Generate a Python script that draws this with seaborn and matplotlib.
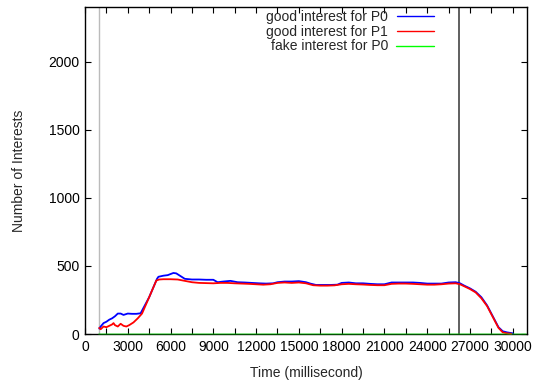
import matplotlib
matplotlib.use("Agg")
import matplotlib.pyplot as plt
import seaborn as sns
import pandas as pd
from matplotlib.ticker import MultipleLocator

# ---- data ----
p0_time = [1000, 1100, 1300, 1500, 1700, 1900, 2100, 2300, 2500, 2700, 3000, 3300, 3600, 3900,
           4500, 5050, 5150, 5500, 5800, 6000, 6200, 6400, 6700, 7000, 7500, 8000, 8500, 9000,
           9300, 9700, 10200, 10700, 11200, 11700, 12200, 12700, 13200, 13500, 14000, 14500,
           15000, 15500, 15800, 16200, 16700, 17200, 17700, 18000, 18500, 19000, 19500, 20000,
           20500, 21000, 21500, 22000, 22500, 23000, 23500, 24000, 24500, 25000, 25500, 26000,
           26300, 26600, 27000, 27400, 27800, 28200, 28600, 29000, 29300, 29600, 30000]
p0_good = [40, 55, 80, 90, 105, 115, 130, 150, 150, 140, 150, 148, 148, 152,
           270, 405, 420, 428, 432, 440, 448, 445, 425, 405, 400, 400, 398, 398,
           380, 385, 390, 380, 378, 375, 372, 370, 372, 380, 385, 385,
           388, 380, 370, 360, 360, 360, 362, 375, 378, 372, 372, 368,
           365, 365, 378, 378, 378, 378, 375, 370, 370, 370, 378, 380,
           372, 355, 335, 310, 270, 210, 130, 50, 20, 12, 5]

p1_time = [1000, 1100, 1300, 1500, 1700, 1900, 2000, 2100, 2300, 2500, 2700, 2900, 3100, 3400,
           3700, 4000, 4500, 5000, 5200, 5500, 6000, 6500, 7000, 7500, 8000, 9000, 9500, 10000,
           10500, 11000, 11500, 12000, 12500, 13000, 13500, 14000, 14500, 15000, 15500, 16000,
           16500, 17000, 17500, 18000, 18500, 19000, 19500, 20000, 20500, 21000, 21500, 22000,
           22500, 23000, 23500, 24000, 24500, 25000, 25500, 26000, 26300, 26600, 27000, 27400,
           27800, 28200, 28600, 29000, 29300, 29600, 29900]
p1_good = [45, 35, 55, 50, 60, 70, 80, 65, 55, 75, 60, 55, 65, 85,
           115, 150, 270, 392, 400, 402, 402, 400, 390, 380, 375, 372, 375, 375,
           372, 370, 368, 365, 362, 365, 375, 378, 375, 378, 372, 358,
           355, 355, 357, 365, 368, 365, 363, 360, 358, 358, 368, 370,
           370, 368, 365, 362, 362, 365, 370, 372, 365, 350, 330, 305, 262,
           205, 125, 45, 12, 5, 2]

fake_time = [1000, 30900]
p0_fake = [0, 0]

series_labels = ["good interest for P0", "good interest for P1", "fake interest for P0"]
series_colors = ["#0000ff", "#ff0000", "#00ff00"]

start_marker = 1000
attack_marker = 26200

frames = [
    pd.DataFrame({"t": p0_time, "v": p0_good, "s": series_labels[0]}),
    pd.DataFrame({"t": p1_time, "v": p1_good, "s": series_labels[1]}),
    pd.DataFrame({"t": fake_time, "v": p0_fake, "s": series_labels[2]}),
]
df = pd.concat(frames, ignore_index=True)

sns.set_style("ticks")
plt.rcParams["font.family"] = ["Liberation Sans", "DejaVu Sans"]

fig = plt.figure(figsize=(5.38, 3.83), dpi=100)
ax = fig.add_axes([85 / 538, 49 / 383, (527 - 85) / 538, (334 - 7) / 383])

ax.axvline(start_marker, color="#bbbbbb", lw=1.0, zorder=1)
ax.axvline(attack_marker, color="#444444", lw=1.2, zorder=1)
n_before = len(ax.get_lines())

sns.lineplot(data=df, x="t", y="v", hue="s", hue_order=series_labels,
             palette=series_colors, linewidth=1.3, ax=ax, estimator=None,
             sort=False, legend=True, zorder=3)
data_lines = ax.get_lines()[n_before:n_before + 3]
for line in data_lines:
    line.set_clip_on(False)
data_lines[2].set_alpha(0.4)
data_lines[2].set_linewidth(1.2)
data_lines[2].set_zorder(4)

ax.set_xlim(0, 31000)
ax.set_ylim(0, 2400)
ax.xaxis.set_major_locator(MultipleLocator(3000))
ax.xaxis.set_minor_locator(MultipleLocator(1500))
ax.yaxis.set_major_locator(MultipleLocator(500))

ax.tick_params(axis="both", which="both", direction="in", top=True, right=True,
               length=4, width=0.8, labelsize=10, colors="black", pad=4)
for sp in ax.spines.values():
    sp.set_visible(True)
    sp.set_color("black")
    sp.set_linewidth(1.0)
    sp.set_zorder(2)

ax.set_xlabel("Time (millisecond)", fontsize=10, labelpad=9)
ax.set_ylabel("Number of Interests", fontsize=10, labelpad=16)

handles, labels = ax.get_legend_handles_labels()
leg = ax.legend(handles, labels, loc="upper right", bbox_to_anchor=(434 / 538, 1 - 10 / 383),
                bbox_transform=fig.transFigure, frameon=False, markerfirst=False,
                fontsize=10, handlelength=2.7, handletextpad=0.6, labelspacing=0.05,
                borderpad=0, borderaxespad=0)
for line, col in zip(leg.get_lines(), series_colors):
    line.set_linewidth(1.0)
    line.set_color(col)
    line.set_alpha(1.0)

fig.savefig("out.png", dpi=100)
